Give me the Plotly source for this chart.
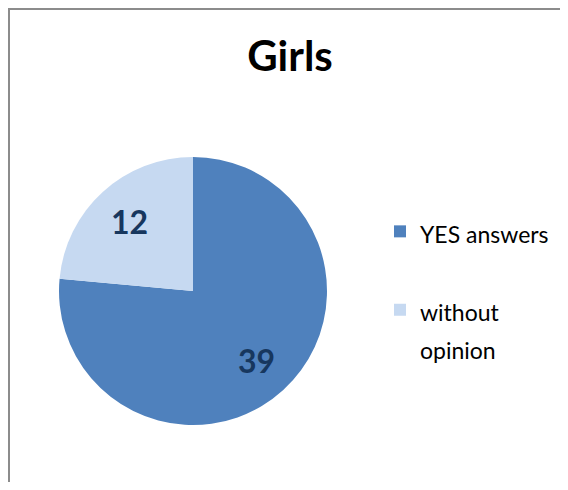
import math
import plotly.graph_objects as go

labels = ["YES answers", "without opinion"]
legend_lines = [["YES answers", " "], ["without", "opinion"]]
values = [39, 12]
colors = ["#4F81BD", "#C6D9F1"]
title = "Girls"

# page body has an 8px margin; keep the figure inside the window (no scrollbars)
OFF = 8
W, H = 568 - OFF, 490 - 2 * OFF


def px_x(wx):
    return (wx - OFF) / W


def px_y(wy):
    return 1 - (wy - OFF) / H


cxw, cyw, r = 193, 291, 134
label_radius = 0.7

legend_text = ["<br>".join("<span style='font-size:23px'>" + s + "</span>" for s in lines)
               for lines in legend_lines]

fig = go.Figure(go.Pie(
    labels=legend_text,
    values=values,
    sort=False,
    direction="clockwise",
    rotation=0,
    marker=dict(colors=colors, line=dict(width=0)),
    textinfo="none",
    domain=dict(x=[px_x(cxw - r), px_x(cxw + r)], y=[px_y(cyw + r), px_y(cyw - r)]),
    hoverinfo="value+percent",
))

# data labels placed along each slice's bisector (derived from the values)
total = sum(values)
cum = 0
annotations = []
for v in values:
    mid = (cum + v / 2) / total
    cum += v
    theta = math.radians(90 - 360 * mid)
    lx = cxw + label_radius * r * math.cos(theta)
    ly = cyw - label_radius * r * math.sin(theta)
    annotations.append(dict(x=px_x(lx), y=px_y(ly), xref="paper", yref="paper",
                            xanchor="center", yanchor="middle",
                            text="<b>%d</b>" % v, showarrow=False,
                            font=dict(family="Lato", size=32, color="#17375E")))

fig.update_layout(
    width=W, height=H,
    margin=dict(l=0, r=0, t=0, b=0),
    paper_bgcolor="white",
    font=dict(family="Lato", color="black"),
    title=dict(text="<b>" + title + "</b>", x=px_x(290), xanchor="center",
               y=px_y(56), yanchor="middle",
               font=dict(family="Lato", size=42, color="black")),
    legend=dict(x=px_x(380), xanchor="left", y=px_y(206), yanchor="top",
                font=dict(family="Lato", size=29, color="black"), valign="top",
                bgcolor="rgba(0,0,0,0)"),
    annotations=annotations,
    shapes=[
        dict(type="line", xref="paper", yref="paper", x0=1 / W, x1=1 / W,
             y0=0, y1=1 - 1 / H, line=dict(color="#8C8C8C", width=2)),
        dict(type="line", xref="paper", yref="paper", x0=0, x1=1,
             y0=1 - 1 / H, y1=1 - 1 / H, line=dict(color="#8C8C8C", width=2)),
    ],
)

fig.write_html("out.html")
